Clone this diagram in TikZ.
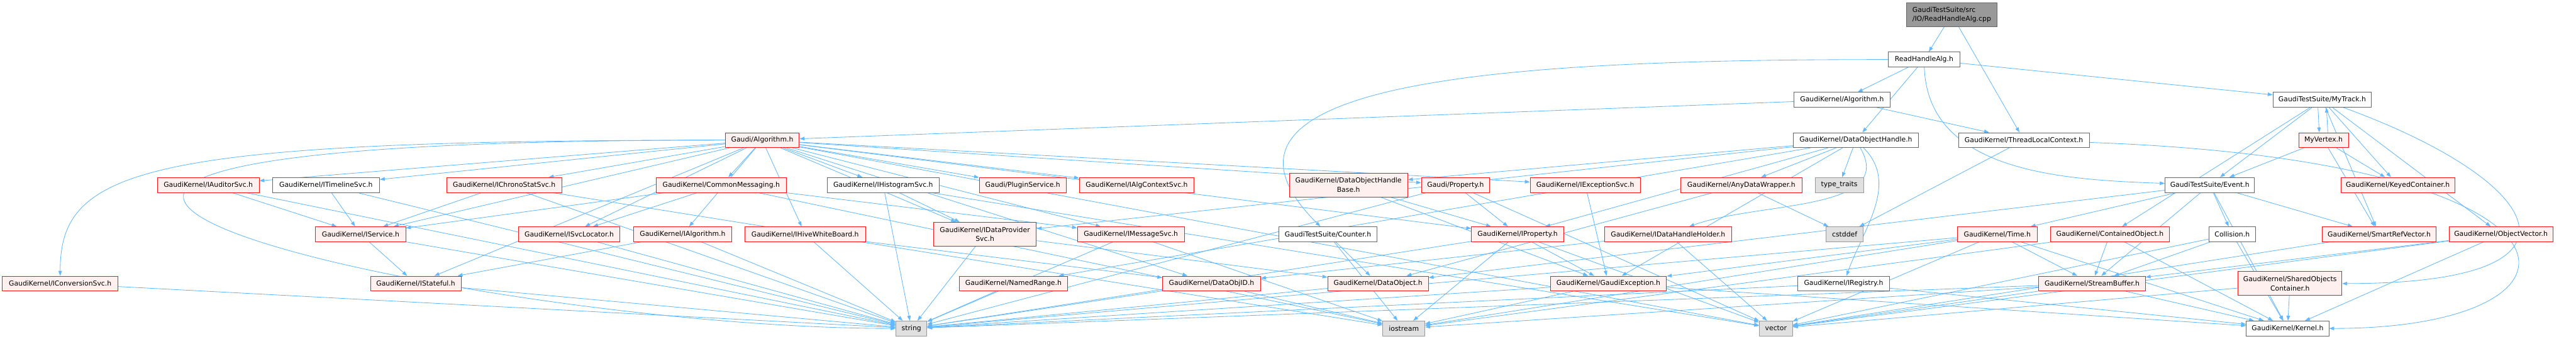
\documentclass[tikz,border=0pt]{standalone}
\usepackage{fontspec}
\setmainfont{DejaVu Sans}
\usetikzlibrary{positioning,backgrounds,arrows.meta}
\usepackage{xcolor}
\definecolor{edgeblue}{RGB}{99,184,255}
\definecolor{hdrred}{RGB}{255,20,20}
\definecolor{hdrfill}{RGB}{255,240,240}
\definecolor{plaingray}{RGB}{102,102,102}
\definecolor{sysgray}{RGB}{153,153,153}
\definecolor{sysfill}{RGB}{224,224,224}
\definecolor{rootfill}{RGB}{153,153,153}

\begin{document}
\begin{tikzpicture}[
    box/.style={rectangle, line width=0.75pt, minimum height=21pt,
                inner xsep=2pt, inner ysep=1pt, align=center,
                font=\fontsize{9.6pt}{12.8pt}\selectfont},
    hdr/.style={box, draw=hdrred, fill=hdrfill},
    plainhdr/.style={box, draw=plaingray, fill=white},
    sys/.style={box, draw=sysgray, fill=sysfill},
    srcfile/.style={box, draw=plaingray, fill=rootfill, align=left},
    dep/.style={-{Triangle[length=7pt,width=5pt]}, line width=0.75pt, draw=edgeblue}
]
\useasboundingbox (0,0) rectangle (3627pt,-477pt);

% top of the graph
\node[srcfile, minimum width=127.5pt, minimum height=34pt] (root) at (2748pt,-20.7pt) {GaudiTestSuite/src\\/IO/ReadHandleAlg.cpp};
\node[plainhdr, minimum width=100.5pt] (rha) at (2709pt,-83.8pt) {ReadHandleAlg.h};
\node[plainhdr, minimum width=135pt] (gkalg) at (2593.5pt,-140.5pt) {GaudiKernel/Algorithm.h};
\node[plainhdr, minimum width=138.75pt, right=538.5pt of gkalg] (mytrack) {GaudiTestSuite/MyTrack.h};
\node[hdr, minimum width=104.25pt] (galg) at (1073.25pt,-197.3pt) {Gaudi/Algorithm.h};
\node[plainhdr, minimum width=176.25pt, right=1398.75pt of galg] (doh) {GaudiKernel/DataObjectHandle.h};
\node[plainhdr, minimum width=184.5pt, right=55.5pt of doh] (tlc) {GaudiKernel/ThreadLocalContext.h};
\node[hdr, minimum width=69.75pt, right=294pt of tlc] (myvertex) {MyVertex.h};

% second row of headers
\node[hdr, minimum width=143.25pt] (iauditor) at (293.25pt,-260.4pt) {GaudiKernel/IAuditorSvc.h};
\node[plainhdr, minimum width=150.75pt, right=18pt of iauditor] (itimeline) {GaudiKernel/ITimelineSvc.h};
\node[hdr, minimum width=162pt, right=93.75pt of itimeline] (ichrono) {GaudiKernel/IChronoStatSvc.h};
\node[hdr, minimum width=183.75pt, right=132pt of ichrono] (commsg) {GaudiKernel/CommonMessaging.h};
\node[plainhdr, minimum width=158.25pt, right=56.25pt of commsg] (ihist) {GaudiKernel/IHistogramSvc.h};
\node[hdr, minimum width=122.25pt, right=55.5pt of ihist] (plugin) {Gaudi/PluginService.h};
\node[hdr, minimum width=161.25pt, right=18pt of plugin] (ialgctx) {GaudiKernel/IAlgContextSvc.h};
\node[hdr, minimum width=166.5pt, minimum height=33.75pt, right=133.5pt of ialgctx] (dohb) {GaudiKernel/DataObjectHandle\\Base.h};
\node[hdr, minimum width=96pt, right=18.75pt of dohb] (property) {Gaudi/Property.h};
\node[hdr, minimum width=155.25pt, right=56.25pt of property] (iexcsvc) {GaudiKernel/IExceptionSvc.h};
\node[hdr, minimum width=170.25pt, right=56.25pt of iexcsvc] (anydw) {GaudiKernel/AnyDataWrapper.h};
\node[sys, minimum width=68.25pt, right=18pt of anydw] (typetraits) {type\_traits};
\node[plainhdr, minimum width=126pt, right=423.75pt of typetraits] (event) {GaudiTestSuite/Event.h};
\node[hdr, minimum width=160.5pt, right=120.75pt of event] (keyed) {GaudiKernel/KeyedContainer.h};

% third row
\node[hdr, minimum width=126.75pt] (iservice) at (507.75pt,-329.8pt) {GaudiKernel/IService.h};
\node[hdr, minimum width=142.5pt, right=158.25pt of iservice] (isvcloc) {GaudiKernel/ISvcLocator.h};
\node[hdr, minimum width=138pt, right=18.75pt of isvcloc] (ialg) {GaudiKernel/IAlgorithm.h};
\node[hdr, minimum width=169.5pt, right=18pt of ialg] (ihive) {GaudiKernel/IHiveWhiteBoard.h};
\node[hdr, minimum width=144.75pt, minimum height=33.75pt, right=95.25pt of ihive] (idpsvc) {GaudiKernel/IDataProvider\\Svc.h};
\node[hdr, minimum width=150.75pt, right=57pt of idpsvc] (imsgsvc) {GaudiKernel/IMessageSvc.h};
\node[plainhdr, minimum width=138.75pt, right=132pt of imsgsvc] (counter) {GaudiTestSuite/Counter.h};
\node[hdr, minimum width=129.75pt, right=132pt of counter] (iprop) {GaudiKernel/IProperty.h};
\node[hdr, minimum width=178.5pt, right=57pt of iprop] (idhh) {GaudiKernel/IDataHandleHolder.h};
\node[sys, minimum width=51.75pt, right=132.75pt of idhh] (cstddef) {cstddef};
\node[hdr, minimum width=112.5pt, right=132pt of cstddef] (time) {GaudiKernel/Time.h};
\node[hdr, minimum width=167.25pt, right=18pt of time] (contained) {GaudiKernel/ContainedObject.h};
\node[plainhdr, minimum width=66pt, right=54.75pt of contained] (collision) {Collision.h};
\node[hdr, minimum width=160.5pt, right=93pt of collision] (smartref) {GaudiKernel/SmartRefVector.h};
\node[hdr, minimum width=146.25pt, right=17.25pt of smartref] (objvec) {GaudiKernel/ObjectVector.h};

% fourth row
\node[hdr, minimum width=162.75pt] (iconv) at (84.75pt,-399.2pt) {GaudiKernel/IConversionSvc.h};
\node[hdr, minimum width=127.5pt, right=354.75pt of iconv] (istateful) {GaudiKernel/IStateful.h};
\node[hdr, minimum width=153pt, right=700.5pt of istateful] (namedrange) {GaudiKernel/NamedRange.h};
\node[hdr, minimum width=138pt, right=132.75pt of namedrange] (dataobjid) {GaudiKernel/DataObjID.h};
\node[hdr, minimum width=141.75pt, right=93.75pt of dataobjid] (dataobj) {GaudiKernel/DataObject.h};
\node[hdr, minimum width=163.5pt, right=171pt of dataobj] (gexc) {GaudiKernel/GaudiException.h};
\node[plainhdr, minimum width=129.75pt, right=183.75pt of gexc] (iregistry) {GaudiKernel/IRegistry.h};
\node[hdr, minimum width=150pt, right=209.25pt of iregistry] (streambuf) {GaudiKernel/StreamBuffer.h};
\node[hdr, minimum width=146.25pt, minimum height=33.75pt, right=129.75pt of streambuf] (shared) {GaudiKernel/SharedObjects\\Container.h};

% system headers and Kernel.h
\node[sys, minimum width=43.5pt] (string) at (1283.25pt,-462.4pt) {string};
\node[sys, minimum width=59.25pt, right=641.25pt of string] (iostream) {iostream};
\node[sys, minimum width=46.5pt, right=470.25pt of iostream] (vector) {vector};
\node[plainhdr, minimum width=116.25pt, right=638.25pt of vector] (kernel) {GaudiKernel/Kernel.h};

\begin{scope}[on background layer]
% the source file and ReadHandleAlg.h
\draw[dep] (root) -- (rha);
\draw[dep] (root) -- (tlc);
\draw[dep] (rha) -- (gkalg);
\draw[dep] (rha) -- (doh);
\draw[dep] (rha) -- (mytrack);
\draw[dep] (rha) to[out=180,in=135,out distance=500pt,in distance=300pt] (counter);
\draw[dep] (rha) to[out=-88,in=178] (event);
\draw[dep] (gkalg) -- (galg);
\draw[dep] (gkalg) -- (tlc);
% Gaudi/Algorithm.h
\draw[dep] (galg) to[out=180,in=90,out distance=825pt,in distance=150pt] (iconv);
\draw[dep] (galg) to[out=180,in=180,out distance=1546pt,in distance=600pt] (string);
\foreach \dst in {iauditor,itimeline,iservice,istateful,ichrono,commsg,
                  isvcloc,ialg,ihive,ihist,plugin,ialgctx,idpsvc,imsgsvc,dataobjid,
                  property,iexcsvc,iprop,vector}
    \draw[dep] (galg) -- (\dst);
% DataObjectHandle.h
\foreach \dst in {dohb,namedrange,idpsvc,anydw,typetraits,iprop,gexc}
    \draw[dep] (doh) -- (\dst);
\draw[dep] (doh) to[out=-60,in=20] (idhh);
\draw[dep] (doh) to[out=-45,in=70] (iregistry);
\draw[dep] (dohb) -- (iprop);
\draw[dep] (dohb) -- (gexc);
\draw[dep] (property) -- (iprop);
\draw[dep] (property) -- (string);
\draw[dep] (property) -- (vector);
\draw[dep] (iexcsvc) -- (gexc);
\draw[dep] (iprop) -- (string);
\draw[dep] (iprop) -- (iostream);
\draw[dep] (iprop) -- (gexc);
\draw[dep] (iprop) -- (vector);
\draw[dep] (counter) -- (dataobj);
\draw[dep] (counter) -- (iostream);
\draw[dep] (idhh) -- (dataobjid);
\draw[dep] (idhh) -- (vector);
\draw[dep] (anydw) -- (dataobj);
\draw[dep] (anydw) -- (cstddef);
\draw[dep] (tlc) -- (cstddef);
\draw[dep] (tlc) to[out=-2,in=0,out distance=735pt,in distance=398pt] (kernel);
% services on the left
\draw[dep] (iauditor) -- (iservice);
\draw[dep] (iauditor) -- (string);
\draw[dep] (itimeline) -- (iservice);
\draw[dep] (itimeline) -- (string);
\draw[dep] (iservice) -- (istateful);
\draw[dep] (iservice) -- (string);
\draw[dep] (istateful) -- (string);
\draw[dep] (iconv) -- (string);
\draw[dep] (ichrono) -- (iservice);
\draw[dep] (ichrono) -- (string);
\draw[dep] (ichrono) -- (iostream);
\draw[dep] (commsg) -- (iservice);
\draw[dep] (commsg) -- (isvcloc);
\draw[dep] (commsg) -- (imsgsvc);
\draw[dep] (commsg) -- (iostream);
\draw[dep] (ihist) -- (string);
\draw[dep] (ihist) -- (idpsvc);
\draw[dep] (ihist) -- (vector);
\draw[dep] (isvcloc) -- (string);
\draw[dep] (ialg) -- (istateful);
\draw[dep] (ialg) -- (string);
\draw[dep] (ihive) -- (string);
\draw[dep] (ihive) -- (dataobjid);
\draw[dep] (idpsvc) -- (string);
\draw[dep] (idpsvc) -- (dataobj);
\draw[dep] (imsgsvc) -- (string);
\draw[dep] (imsgsvc) -- (iostream);
\draw[dep] (namedrange) -- (string);
\draw[dep] (dataobjid) -- (string);
\draw[dep] (dataobjid) -- (iostream);
\draw[dep] (dataobj) -- (string);
\draw[dep] (gexc) -- (string);
\draw[dep] (gexc) -- (iostream);
\draw[dep] (gexc) -- (kernel);
\draw[dep] (iregistry) -- (string);
\draw[dep] (iregistry) -- (kernel);
% event model on the right
\foreach \dst in {string,iostream,vector,streambuf,kernel,gexc}
    \draw[dep] (time) -- (\dst);
\draw[dep] (contained) -- (streambuf);
\draw[dep] (contained) -- (kernel);
\draw[dep] (contained) -- (iostream);
\foreach \dst in {string,iostream,vector,kernel}
    \draw[dep] (streambuf) -- (\dst);
\foreach \dst in {collision,smartref,kernel,time,dataobj,streambuf}
    \draw[dep] (event) -- (\dst);
\foreach \dst in {event,keyed,smartref,objvec,contained}
    \draw[dep] (mytrack) -- (\dst);
\draw[dep] (mytrack) to[out=-20,in=0,out distance=300pt,in distance=375pt] (shared);
\draw[dep] ([xshift=-6pt]mytrack.south) -- ([xshift=-6pt]myvertex.north);
\draw[dep] ([xshift=6pt]myvertex.north) -- ([xshift=6pt]mytrack.south);
\draw[dep] (myvertex) -- (event);
\draw[dep] (myvertex) -- (keyed);
\draw[dep] (myvertex) -- (smartref);
\draw[dep] (collision) -- (kernel);
\draw[dep] (collision) -- (streambuf);
\draw[dep] (collision) -- (vector);
\draw[dep] (smartref) -- (vector);
\draw[dep] (objvec) -- (kernel);
\draw[dep] (objvec) -- (streambuf);
\draw[dep] (objvec) -- (vector);
\draw[dep] (shared) -- (kernel);
\draw[dep] (shared) -- (vector);
\end{scope}

\end{tikzpicture}
\end{document}
